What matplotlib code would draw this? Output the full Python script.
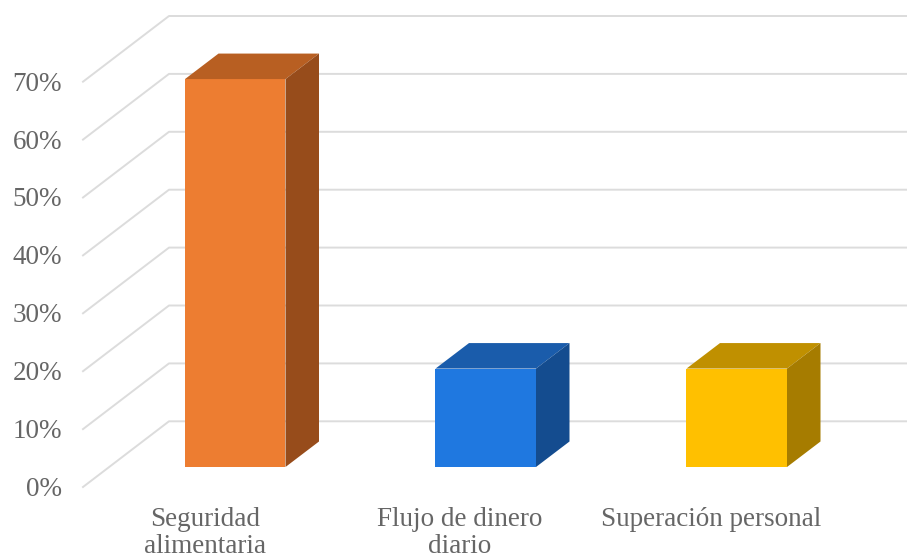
import matplotlib
matplotlib.use("Agg")
import matplotlib.pyplot as plt
from matplotlib.patches import Polygon, Rectangle

categories = ["Seguridad\nalimentaria", "Flujo de dinero\ndiario", "Superación personal"]
values = [67, 17, 17]
front = ["#ED7D31", "#1F78E0", "#FFC000"]
top = ["#B85F22", "#1A5CAB", "#C09000"]
side = ["#974C1B", "#144C8F", "#A67C00"]
yticks = list(range(0, 80, 10))

plt.rcParams['font.family'] = ['Liberation Serif', 'DejaVu Serif']
W, H = 907, 560
fig = plt.figure(figsize=(W/100, H/100), dpi=100)
x0, x1 = 83, 907
y_zero, y_70 = 487, 81.7
ax = fig.add_axes([x0/W, 1-y_zero/H, (x1-x0)/W, (y_zero-y_70)/H])
ax.set_xlim(x0, x1)
ax.set_ylim(0, 70)
ax.axis('off')
py = (y_zero - y_70)/70  # pixels per percent
dx, dyv = 86, 65.7/py    # depth of the floor/wall
grid = "#DCDCDC"
tc = "#666666"
for t in yticks:
    ax.text(62, t - 2.5/py, f"{t}%", ha='right', va='center', fontsize=19.5, color=tc, clip_on=False)
    ax.plot([x0, x0+dx, x1], [t, t+dyv, t+dyv], color=grid, lw=1.4, clip_on=False, zorder=1)

lefts = [185, 435.5, 686.5]
bw = 100.5
bdx, bdyv = 33.5, 25.5/py
base = 20/py
for l, v, f, t_, s in zip(lefts, values, front, top, side):
    r = l + bw
    T = v + base
    ax.add_patch(Rectangle((l, base), bw, v, fc=f, ec='none', zorder=3, clip_on=False))
    ax.add_patch(Polygon([(l, T), (r, T), (r+bdx, T+bdyv), (l+bdx, T+bdyv)], fc=t_, ec='none', zorder=3, clip_on=False))
    ax.add_patch(Polygon([(r, base), (r+bdx, base+bdyv), (r+bdx, T+bdyv), (r, T)], fc=s, ec='none', zorder=3, clip_on=False))

label_x = [205, 460, 711]
for lx, cat in zip(label_x, categories):
    ax.text(lx, -(506.5-487)/py, cat, ha='center', va='top', fontsize=19.5, color=tc, clip_on=False, linespacing=1.15)
fig.savefig("out.png", dpi=100)
